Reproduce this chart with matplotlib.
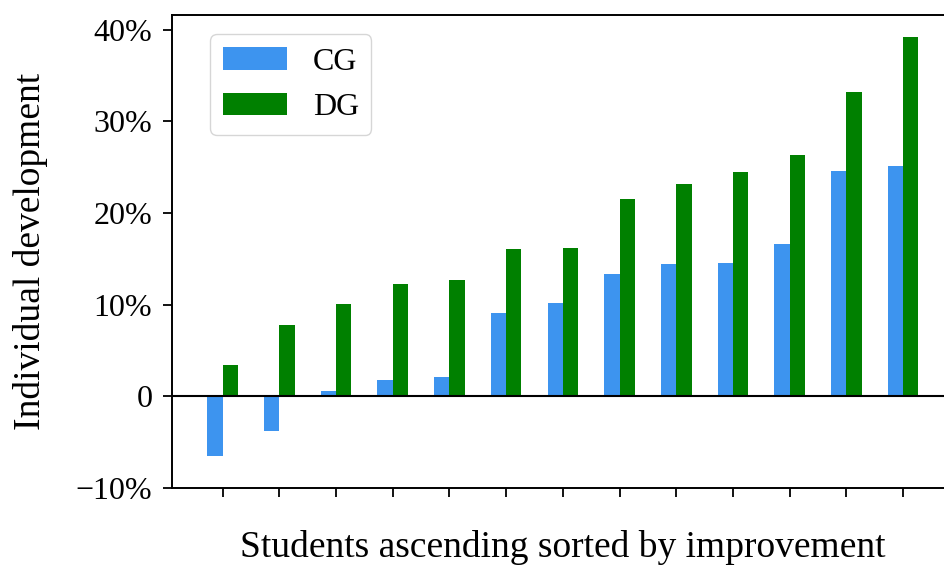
import matplotlib
matplotlib.use('Agg')
import matplotlib.pyplot as plt
from matplotlib.ticker import FuncFormatter
import numpy as np

plt.rcParams['font.family'] = 'serif'
plt.rcParams['font.serif'] = ['Liberation Serif', 'DejaVu Serif']

# individual development per student (fraction), sorted ascending
cg_vals = [-0.065, -0.038, 0.006, 0.0175, 0.0215, 0.091, 0.102, 0.1335, 0.1445, 0.146, 0.1665, 0.246, 0.2515]
dg_vals = [0.034, 0.0775, 0.101, 0.123, 0.1265, 0.161, 0.162, 0.215, 0.2315, 0.2445, 0.263, 0.332, 0.3925]
group_labels = ['CG', 'DG']
group_colors = ['#3d94ef', 'green']

x = np.arange(len(cg_vals))
w = 0.27

fig = plt.figure(figsize=(9.44, 5.67), dpi=100)
ax = fig.add_axes([0.1819, 0.1393, 0.8287, 0.8339])

ax.bar(x - w / 2, cg_vals, w, color=group_colors[0], label=group_labels[0])
ax.bar(x + w / 2, dg_vals, w, color=group_colors[1], label=group_labels[1])
ax.axhline(0, color='black', lw=1.5)

ax.set_xlim(-0.9, len(cg_vals) - 0.1)
ax.set_ylim(-0.1, 0.416)
ax.set_xticks(x)
ax.set_xticklabels([])
ax.set_yticks([-0.1, 0, 0.1, 0.2, 0.3, 0.4])


def pct(v, pos):
    if abs(v) < 1e-9:
        return '0'
    s = f"{abs(v) * 100:.0f}%"
    return ('\u2212' + s) if v < 0 else s


ax.yaxis.set_major_formatter(FuncFormatter(pct))
ax.tick_params(axis='both', labelsize=23, length=6.5, width=1.3)
ax.tick_params(axis='y', pad=7.5)
for sp in ax.spines.values():
    sp.set_linewidth(1.4)
ax.spines['right'].set_visible(False)

ax.set_ylabel('Individual development', fontsize=27, labelpad=20)
ax.set_xlabel('Students ascending sorted by improvement', fontsize=27, labelpad=20.5)

ax.legend(loc='upper left', bbox_to_anchor=(0.029, 0.993), fontsize=23)

fig.savefig('out.png', dpi=100)
